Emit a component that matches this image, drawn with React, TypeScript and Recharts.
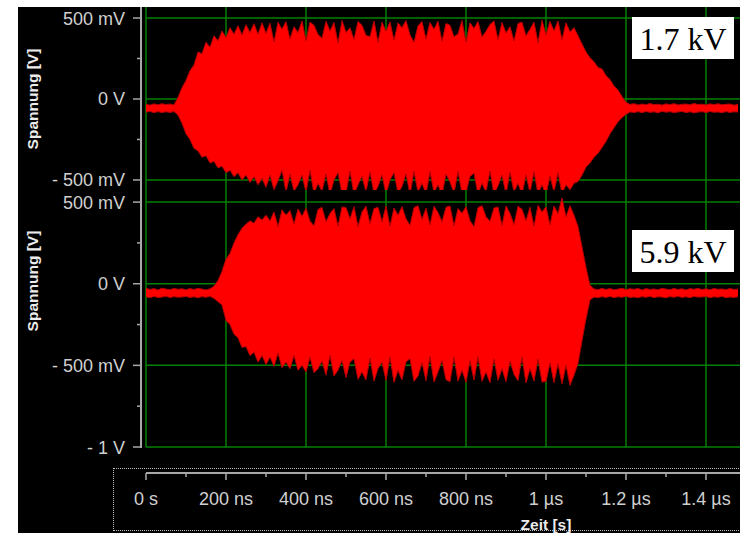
import React from 'react';
import { AreaChart, Area, XAxis, YAxis, CartesianGrid, Label } from 'recharts';

// sample times of the envelope, ns
const timeNs = [
  0, 10, 20, 30, 40, 50, 60, 70, 80, 90,
  100, 110, 120, 130, 140, 150, 160, 170, 180, 190,
  200, 210, 220, 230, 240, 250, 260, 270, 280, 290,
  300, 310, 320, 330, 340, 350, 360, 370, 380, 390,
  400, 410, 420, 430, 440, 450, 460, 470, 480, 490,
  500, 510, 520, 530, 540, 550, 560, 570, 580, 590,
  600, 610, 620, 630, 640, 650, 660, 670, 680, 690,
  700, 710, 720, 730, 740, 750, 760, 770, 780, 790,
  800, 810, 820, 830, 840, 850, 860, 870, 880, 890,
  900, 910, 920, 930, 940, 950, 960, 970, 980, 990,
  1000, 1010, 1020, 1030, 1040, 1050, 1060, 1070, 1080, 1090,
  1100, 1110, 1120, 1130, 1140, 1150, 1160, 1170, 1180, 1190,
  1200, 1210, 1220, 1230, 1240, 1250, 1260, 1270, 1280, 1290,
  1300, 1310, 1320, 1330, 1340, 1350, 1360, 1370, 1380, 1390,
  1400, 1410, 1420, 1430, 1440, 1450, 1460, 1470, 1480,
];

// 1.7 kV trace, upper / lower envelope in mV
const topHigh = [
  -33, -38, -30, -36, -29, -35, -31, -37, 10, 70,
  115, 175, 210, 290, 280, 350, 320, 390, 360, 420,
  380, 440, 400, 452, 395, 458, 410, 465, 400, 470,
  405, 468, 352, 474, 430, 478, 370, 446, 410, 482,
  360, 475, 455, 398, 375, 480, 420, 472, 345, 485,
  410, 440, 368, 478, 455, 392, 385, 482, 350, 474,
  418, 476, 362, 470, 440, 484, 396, 350, 452, 478,
  370, 472, 430, 480, 356, 466, 455, 384, 402, 484,
  352, 470, 436, 478, 384, 418, 460, 482, 366, 472,
  408, 446, 358, 466, 474, 390, 430, 474, 348, 486,
  398, 478, 420, 482, 366, 470, 415, 440, 390, 340,
  290, 255, 230, 195, 185, 145, 120, 80, 55, 15,
  -20, -34, -29, -37, -31, -36, -28, -35, -32, -38,
  -30, -35, -29, -37, -33, -31, -36, -28, -34, -32,
  -37, -30, -35, -29, -36, -33, -31, -38, -34,
];
const topLow = [
  -82, -76, -85, -78, -84, -79, -83, -77, -100, -150,
  -215, -250, -305, -320, -360, -350, -395, -385, -425, -415,
  -455, -440, -480, -455, -500, -470, -515, -480, -530, -490,
  -545, -470, -560, -505, -440, -575, -465, -570, -530, -470,
  -575, -440, -585, -520, -570, -462, -590, -500, -455, -585,
  -580, -445, -590, -530, -478, -572, -450, -585, -540, -468,
  -588, -500, -455, -582, -540, -462, -590, -448, -574, -520,
  -586, -450, -578, -530, -590, -464, -512, -582, -448, -584,
  -576, -478, -458, -588, -520, -574, -444, -590, -535, -470,
  -586, -452, -574, -520, -590, -468, -578, -450, -584, -530,
  -590, -476, -575, -455, -585, -530, -560, -520, -510, -470,
  -420, -395, -360, -335, -300, -262, -215, -178, -140, -115,
  -95, -80, -84, -78, -85, -77, -83, -79, -86, -76,
  -82, -78, -85, -80, -77, -84, -79, -86, -81, -78,
  -84, -77, -82, -80, -85, -78, -83, -79, -81,
];

// 5.9 kV trace, upper / lower envelope in mV
const bottomHigh = [
  -28, -35, -30, -38, -27, -33, -36, -29, -34, -31,
  -37, -30, -35, -28, -33, -38, -31, -15, 20, 75,
  150, 185, 250, 300, 340, 365, 385, 370, 410, 390,
  420, 385, 440, 350, 452, 420, 448, 365, 458, 412,
  462, 384, 355, 455, 468, 380, 430, 460, 352, 470,
  466, 398, 472, 350, 440, 474, 368, 460, 468, 380,
  476, 352, 464, 420, 472, 398, 358, 466, 478, 394,
  462, 360, 474, 436, 380, 468, 476, 354, 460, 432,
  472, 386, 350, 466, 478, 410, 382, 464, 470, 356,
  476, 430, 362, 474, 456, 386, 468, 352, 480, 440,
  470, 360, 476, 430, 525, 410, 478, 420, 350, 226,
  100, -10, -32, -36, -29, -35, -30, -37, -33, -28,
  -36, -31, -34, -29, -38, -30, -35, -32, -37, -28,
  -33, -36, -29, -35, -31, -38, -30, -34, -28, -36,
  -31, -37, -29, -34, -32, -36, -30, -35, -33,
];
const bottomLow = [
  -80, -86, -78, -84, -82, -77, -85, -79, -83, -81,
  -78, -84, -80, -86, -79, -83, -77, -90, -110, -130,
  -225, -250, -310, -330, -390, -385, -440, -420, -480, -440,
  -495, -450, -505, -425, -515, -480, -520, -440, -530, -500,
  -540, -450, -545, -520, -475, -560, -440, -565, -530, -470,
  -575, -480, -460, -585, -540, -590, -455, -596, -520, -482,
  -592, -450, -604, -530, -590, -478, -460, -598, -565, -484,
  -594, -445, -602, -540, -470, -588, -600, -450, -596, -530,
  -604, -472, -590, -448, -598, -540, -606, -460, -592, -520,
  -600, -474, -555, -594, -450, -608, -520, -596, -462, -602,
  -598, -484, -606, -490, -612, -500, -622, -560, -488, -350,
  -215, -100, -82, -86, -79, -84, -78, -85, -80, -83,
  -77, -84, -81, -86, -79, -83, -78, -85, -80, -82,
  -86, -79, -83, -77, -84, -80, -85, -78, -82, -81,
  -79, -85, -80, -83, -78, -86, -81, -84, -80,
];

const timeTicks = [0, 100, 200, 300, 400, 500, 600, 700, 800, 900, 1000, 1100, 1200, 1300, 1400];
const timeGrid = [0, 200, 400, 600, 800, 1000, 1200, 1400];
const timeLabels: Record<number, string> = {
  0: '0 s', 200: '200 ns', 400: '400 ns', 600: '600 ns', 800: '800 ns',
  1000: '1 \u00b5s', 1200: '1.2 \u00b5s', 1400: '1.4 \u00b5s',
};
const voltLabels: Record<number, string> = { 500: '500 mV', 0: '0 V', '-500': '- 500 mV', '-1000': '- 1 V' };
const topTicks = [-500, -250, 0, 250, 500];
const bottomTicks = [-1000, -750, -500, -250, 0, 250, 500];
const topGrid = [-500, 0, 500];
const bottomGrid = [-1000, -500, 0, 500];
const voltageLabels = ['1.7 kV', '5.9 kV'];

const TIME_DOMAIN: [number, number] = [0, 1485];
const GRID = '#008000';
const AXIS = '#a8a8a8';
const TEXT = '#d0d0d0';
const SANS = '"Liberation Sans", Arial, sans-serif';

const VoltTick = (props: any) => {
  const { y, payload } = props;
  const label = voltLabels[payload.value];
  const major = label !== undefined;
  return (
    <g>
      <line x1={major ? 133 : 137} x2={141} y1={y} y2={y} stroke={AXIS} strokeWidth={1.5} />
      {major && (
        <text x={125} y={y} dy={6.5} textAnchor="end" fill={TEXT} fontSize={18} fontFamily={SANS}>
          {label}
        </text>
      )}
    </g>
  );
};

const TimeTick = (props: any) => {
  const { x, payload } = props;
  const label = timeLabels[payload.value];
  return (
    <g>
      <line x1={x} x2={x} y1={10} y2={label ? 17 : 14} stroke={AXIS} strokeWidth={1.5} />
      {label && (
        <text x={x} y={42} textAnchor="middle" fill={TEXT} fontSize={18} fontFamily={SANS}>
          {label}
        </text>
      )}
    </g>
  );
};

function Panel({ top, height, bottomMargin, high, low, domain, ticks, grid, titleY }: any) {
  const data = timeNs.map((t, i) => ({ t, range: [low[i], high[i]] }));
  return (
    <div style={{ position: 'absolute', left: 0, top }}>
      <AreaChart width={740} height={height} data={data} margin={{ top: 0, right: 0, bottom: bottomMargin, left: 0 }}>
        <CartesianGrid stroke={GRID} strokeWidth={1.5} horizontalValues={grid} verticalValues={timeGrid} />
        <XAxis type="number" dataKey="t" domain={TIME_DOMAIN} ticks={timeGrid} allowDataOverflow hide />
        <YAxis
          width={146}
          type="number"
          domain={domain}
          ticks={ticks}
          interval={0}
          allowDataOverflow
          axisLine={false}
          tickLine={false}
          tick={<VoltTick />}
        >
          <Label
            content={() => (
              <text
                x={38}
                y={titleY}
                transform={`rotate(-90 38 ${titleY})`}
                textAnchor="middle"
                fill="#ececec"
                fontSize={15.5}
                fontWeight="bold"
                fontFamily={SANS}
              >
                Spannung [V]
              </text>
            )}
          />
        </YAxis>
        <Area dataKey="range" type="linear" stroke="#b40000" strokeWidth={1} fill="#ff0000" fillOpacity={1} isAnimationActive={false} />
      </AreaChart>
    </div>
  );
}

const kvBox = (top: number, text: string) => (
  <div
    style={{
      position: 'absolute', left: 632, top, width: 102, height: 42, background: '#ffffff',
      display: 'flex', alignItems: 'center', justifyContent: 'center', paddingTop: 2, boxSizing: 'border-box',
      fontFamily: '"Liberation Serif", "Times New Roman", serif', fontSize: 32, color: '#000',
    }}
  >
    {text}
  </div>
);

export default function App() {
  const axisData = timeNs.map((t) => ({ t }));
  return (
    <div style={{ position: 'absolute', left: 0, top: 0, width: 740, height: 533, background: '#ffffff', overflow: 'hidden' }}>
      <div style={{ position: 'absolute', left: 18, top: 7, width: 722, height: 526, background: '#000000' }} />
      <Panel top={7} height={183} bottomMargin={0} high={topHigh} low={topLow} domain={[-562, 568]} ticks={topTicks} grid={topGrid} titleY={92} />
      <Panel top={190} height={270} bottomMargin={13} high={bottomHigh} low={bottomLow} domain={[-1000, 574]} ticks={bottomTicks} grid={bottomGrid} titleY={91} />
      <div style={{ position: 'absolute', left: 140, top: 7, width: 2, height: 441, background: AXIS }} />
      <div style={{ position: 'absolute', left: 113, top: 468, width: 700, height: 63, border: '1px dotted #bdbdbd', boxSizing: 'border-box' }} />
      <div style={{ position: 'absolute', left: 0, top: 463 }}>
        <AreaChart width={740} height={70} data={axisData} margin={{ top: 0, right: 0, bottom: 0, left: 146 }}>
          <XAxis
            type="number"
            dataKey="t"
            domain={TIME_DOMAIN}
            ticks={timeTicks}
            interval={0}
            height={60}
            allowDataOverflow
            axisLine={{ stroke: AXIS, strokeWidth: 2 }}
            tickLine={false}
            tick={<TimeTick />}
          >
            <Label
              content={() => (
                <text x={546} y={67} textAnchor="middle" fill="#ececec" fontSize={15.5} fontWeight="bold" fontFamily={SANS}>
                  Zeit [s]
                </text>
              )}
            />
          </XAxis>
        </AreaChart>
      </div>
      {kvBox(17, voltageLabels[0])}
      {kvBox(230, voltageLabels[1])}
    </div>
  );
}
